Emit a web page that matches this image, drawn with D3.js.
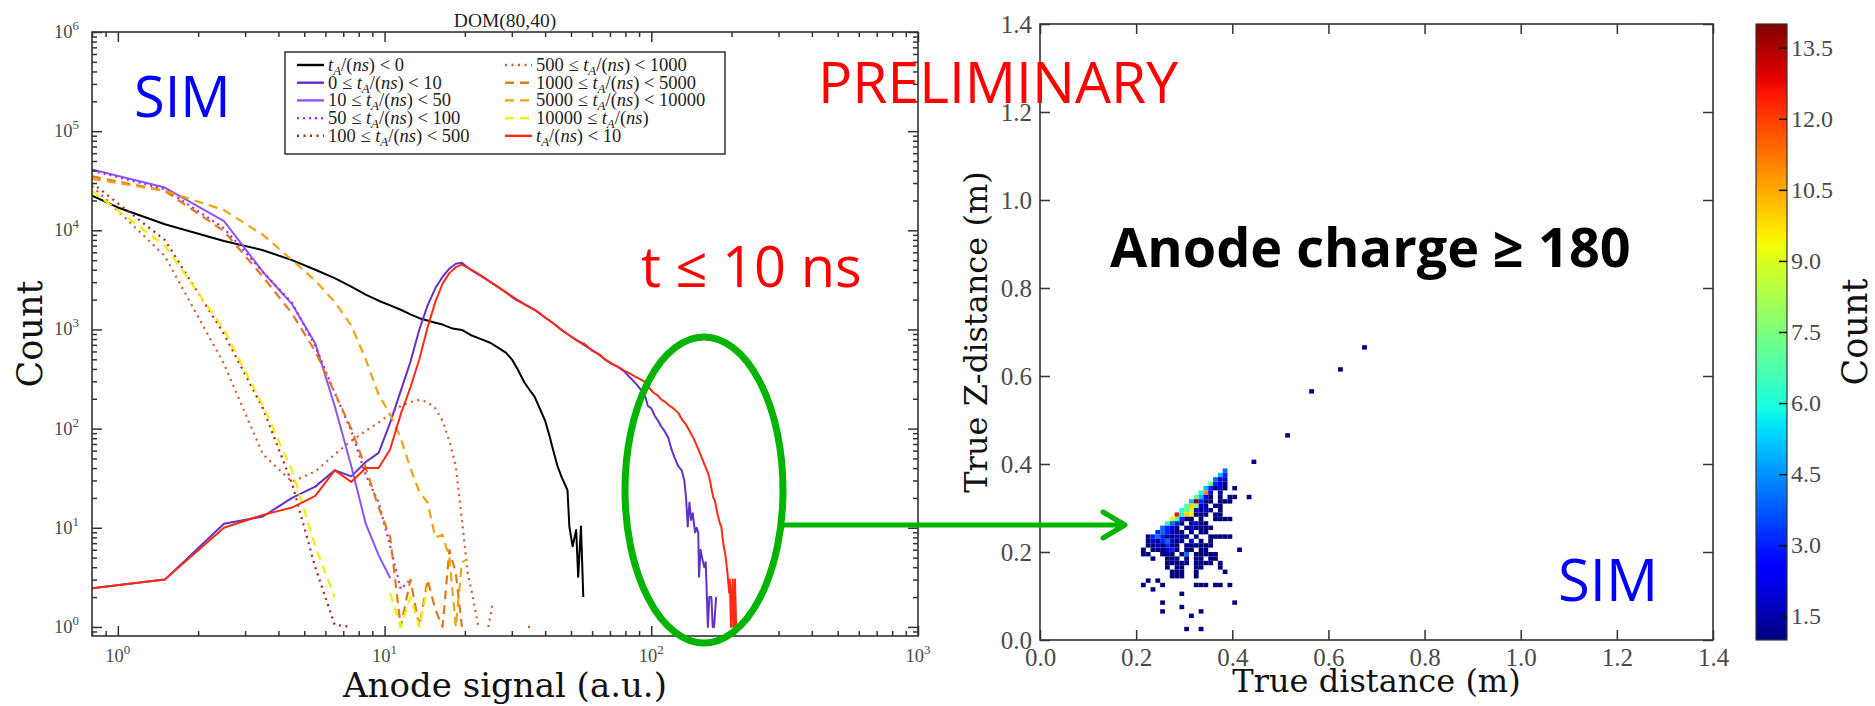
<!DOCTYPE html>
<html>
<head>
<meta charset="utf-8">
<script src="https://cdn.jsdelivr.net/npm/d3@7"></script>
<style>
body { margin: 0; background: #fff; }
text { font-family: "Liberation Serif", serif; }
</style>
</head>
<body>
<svg id="chart" width="1875" height="706"></svg>
<script>
// ---- left panel: anode signal histograms, [signal, count] pairs (null = empty bin)
const tNeg = [[0.8,22300],[1.0,17000],[1.5,11500],[2.5,7800],[3.5,6300],[4.5,5000],[5.5,4000],[6.5,3300],[7.5,2700],[8.5,2250],[9.5,1950],[10.5,1750],[11.5,1580],[12.5,1420],[13.5,1300],[14.5,1230],[15.5,1170],[16.5,1120],[18,1020],[19.5,990],[21,880],[23,800],[25,730],[27,640],[28.5,585],[30,500],[31.5,400],[33.5,290],[35,245],[36.5,210],[38,165],[40,120],[41.5,85],[42.5,66],[44.5,42],[46,33],[48.5,24],[49.3,10.3],[50.7,6.5],[52.3,9.5],[53.2,3.2],[54.5,10.3],[55.6,2]];
const t0to10 = [[0.8,2.45],[1.5,3.0],[2.5,11],[3.5,13],[4.5,20],[5.5,26],[6.5,38],[7.5,33],[8.5,46],[9.5,57],[10.5,115],[11.5,240],[12.5,470],[13.5,1000],[14.5,1750],[15.5,2600],[16.5,3400],[17.5,4100],[18.5,4600],[19.5,4700],[21,4000],[23,3450],[25,3000],[28,2450],[31,2000],[34,1760],[37,1540],[40,1320],[43,1150],[46,1000],[50,850],[55,720],[60,620],[64,550],[67,500],[71,450],[75,420],[79,380],[83,330],[86,300],[89,270],[92,240],[95,210],[97,170],[100,160],[103,135],[106,120],[109,105],[112,95],[116,80],[119,62],[122,52],[126,42],[130,38],[133,30],[135,20],[137,10.3],[139,18],[141,12],[143,14],[146,9],[148,10],[150,8.9],[151,3.2],[153,6],[155,5],[158,4],[160,4.5],[163,1],[165,2],[168,2],[170,1],[172,1],[175,2]];
const t10to50 = [[0.8,41000],[1.5,27000],[2.5,12400],[3.5,3800],[4.5,1800],[5.5,720],[6.5,170],[7.5,42],[8.5,11],[9.5,5.3],[10.5,3.1]];
const t50to100 = [[0.8,40000],[1.5,26000],[2.5,10500],[3.5,3800],[4.5,1850],[5.5,680],[6.5,230],[7.5,95],[8.5,34],[9.5,18],[10.5,6.5],[11.5,2.4],[12.5,3.0]];
const t100to500 = [[0.8,30000],[1.5,8000],[2.5,900],[3.5,160],[4.5,28],[5.5,4],[6.5,1.05],[7.5,1]];
const t500to1000 = [[0.8,28000],[1.5,5500],[2.5,450],[3.5,55],[4.5,29],[5.5,37],[6.5,55],[7.5,75],[8.5,95],[9.5,115],[10.5,140],[11.5,170],[12.5,185],[13.5,195],[14.5,185],[15.5,160],[16.5,120],[17.5,75],[18.5,42],[19.5,12],[20.5,3.5],[21.5,1.9],[22.5,1.0],[23.5,null],[24.5,1],[25.5,1.8],[26.5,null],[34.5,1],[35.5,1]];
const t1000to5000 = [[0.8,35000],[1.5,25000],[2.5,9800],[3.5,3400],[4.5,1450],[5.5,600],[6.5,230],[7.5,100],[8.5,40],[9.5,16],[10.5,8],[11.5,1],[12.5,3],[13.5,1],[14.5,3],[15.5,1.5],[16.5,1],[17.5,6],[18.5,3.5],[19.5,1]];
const t5000to10000 = [[0.8,33000],[1.5,25000],[2.5,16000],[3.5,9000],[4.5,5000],[5.5,3100],[6.5,1900],[7.5,1100],[8.5,500],[9.5,220],[10.5,140],[11.5,80],[12.5,40],[13.5,23],[14.5,18],[15.5,8],[16.5,8.5],[17.5,5],[18.5,1],[19.5,4.5],[20.5,4.8]];
const t10000up = [[0.8,25000],[1.5,7000],[2.5,1000],[3.5,170],[4.5,38],[5.5,6.5],[6.5,2.0],[7.5,null],[10.5,2.2],[11.5,1],[12.5,2],[13.5,1],[14.5,2.5]];
const tLt10 = [[0.8,2.45],[1.5,3.0],[2.5,10],[3.5,13.5],[4.5,16],[5.5,21],[6.5,38],[7.5,29],[8.5,40],[9.5,40],[10.5,62],[11.5,140],[12.5,260],[13.5,500],[14.5,1050],[15.5,1900],[16.5,2900],[17.5,3700],[18.5,4250],[19.5,4500],[21,4050],[23,3500],[25,3000],[28,2450],[31,2050],[34,1750],[37,1550],[40,1320],[43,1150],[46,990],[50,850],[53,760],[56,720],[60,610],[64,560],[67,500],[71,455],[75,420],[79,385],[83,360],[87,335],[90,320],[94,300],[98,260],[102,230],[106,215],[109,196],[113,185],[117,170],[121,160],[126,145],[130,125],[135,110],[140,92],[145,77],[150,62],[155,50],[159,42],[163,36],[166,30],[168,25],[171,20],[173,19],[176,15],[178,13],[181,11],[183,10.3],[185,8],[187,6.5],[189,5.6],[191,4.5],[193,3.5],[194,3],[196,2.2],[197,3],[199,1],[200,2],[202,3],[203,1],[205,1],[206,3],[208,1]];

const legendPre  = ["", "0 ≤ ", "10 ≤ ", "50 ≤ ", "100 ≤ ", "500 ≤ ", "1000 ≤ ", "5000 ≤ ", "10000 ≤ ", ""];
const legendPost = [" < 0", " < 10", " < 50", " < 100", " < 500", " < 1000", " < 5000", " < 10000", "", " < 10"];

// ---- right panel: 2D histogram, [x bin, z bin, count] with bins of 0.01 m
const BIN = 0.01;
const cells = [
[38,38,4],[37,37,5],[38,37,3],[36,36,4],[37,36,2],[38,36,2],
[35,35,7],[36,35,3],[37,35,2],[38,35,1],
[34,34,5],[35,34,3],[36,34,1],[37,34,2],[38,34,1],[40,34,1],
[33,33,6],[34,33,11],[35,33,2],[37,33,1],
[32,32,7],[33,32,5],[34,32,2],[35,32,1],[37,32,1],[39,32,1],[40,32,1],[43,32,1],
[31,31,5],[32,31,14],[33,31,3],[34,31,1],[35,31,1],[37,31,1],[38,31,1],[39,31,1],
[30,30,7],[31,30,10],[32,30,8],[33,30,2],[34,30,1],[36,30,1],[37,30,1],
[29,29,6],[30,29,7],[31,29,9],[32,29,2],[33,29,1],[34,29,2],[35,29,1],[37,29,1],
[28,28,12.5],[29,28,6],[30,28,10],[31,28,9.5],[32,28,1],[33,28,1],[34,28,1],[36,28,1],[37,28,1],
[27,27,9],[28,27,7],[29,27,3],[30,27,1],[31,27,1],[33,27,1],[36,27,1],[37,27,1],[38,27,1],[39,27,1],
[26,26,6],[27,26,4],[28,26,3],[29,26,1],[31,26,1],[32,26,2],[33,26,1],[34,26,1],
[25,25,4],[26,25,3],[27,25,2],[28,25,1],[30,25,1],[31,25,2],[32,25,1],[33,25,1],[34,25,1],[35,25,1],
[24,24,3],[25,24,4],[26,24,3],[27,24,2],[28,24,1],[29,24,1],[31,24,1],[33,24,1],[34,24,1],
[22,23,1],[23,23,3],[24,23,4],[25,23,3],[26,23,1],[27,23,1],[28,23,2],[29,23,1],[30,23,1],[32,23,1],[35,23,1],[36,23,1],[37,23,1],[38,23,1],[39,23,1],
[22,22,1],[23,22,2],[24,22,1],[25,22,3],[26,22,4],[27,22,2],[28,22,1],[29,22,1],[31,22,2],[33,22,1],[35,22,1],
[22,21,1],[23,21,1],[24,21,2],[25,21,1],[26,21,3],[27,21,1],[28,21,1],[30,21,1],[31,21,1],[32,21,1],[33,21,1],[34,21,1],[35,21,1],
[21,20,1],[23,20,1],[24,20,1],[25,20,1],[26,20,2],[27,20,3],[28,20,1],[30,20,1],[31,20,1],[33,20,1],[34,20,1],[41,20,1],
[21,19,1],[22,19,1],[25,19,1],[26,19,1],[27,19,1],[29,19,1],[30,19,4],[32,19,1],[33,19,1],[34,19,1],[35,19,1],[36,19,1],
[23,18,1],[26,18,1],[27,18,1],[28,18,1],[30,18,1],[32,18,1],[33,18,1],[35,18,1],[36,18,1],
[26,17,1],[27,17,1],[28,17,1],[29,17,1],[30,17,1],[32,17,1],[33,17,1],[34,17,1],[35,17,1],[37,17,1],
[26,16,1],[28,16,1],[29,16,1],[32,16,1],[33,16,1],[37,16,1],
[27,15,1],[28,15,1],[29,15,1],[32,15,1],[38,15,1],
[27,14,1],[28,14,1],[29,14,1],[32,14,1],
[22,13,1],[24,13,1],
[21,12,1],[25,12,1],[32,12,1],[33,12,1],[34,12,1],[36,12,1],[37,12,1],[39,12,1],
[23,11,1],[29,10,1],[25,8,1],[40,8,1],[29,7,1],[25,6,1],[33,6,1],[31,5,1],[30,2,1],[33,2,1],
[44,40,1],[51,46,1],[56,56,1],[62,61,1],[67,66,1]
];
const rightTicks = [0, 0.2, 0.4, 0.6, 0.8, 1.0, 1.2, 1.4];
const cbTicks = [1.5, 3.0, 4.5, 6.0, 7.5, 9.0, 10.5, 12.0, 13.5];

const svg = d3.select("#chart");
const ink = "#333";
const tickInk = "#4a4a4a";

// ================= left panel =================
const L = {x0: 92, x1: 918, y0: 32, y1: 636};
const x = d3.scaleLog().domain([0.8, 1000]).range([L.x0, L.x1]);
const y = d3.scaleLog().domain([0.81, 1e6]).range([L.y1, L.y0]);

svg.append("clipPath").attr("id", "clipL")
   .append("rect").attr("x", L.x0).attr("y", L.y0)
   .attr("width", L.x1 - L.x0).attr("height", L.y1 - L.y0);

const series = [
  {data: tNeg,         color: "#000000", dash: null},
  {data: t0to10,       color: "#6131c9", dash: null},
  {data: t10to50,      color: "#8b55f7", dash: null},
  {data: t50to100,     color: "#a22be0", dash: "2,4"},
  {data: t100to500,    color: "#b3200f", dash: "2,4.5"},
  {data: t500to1000,   color: "#d45a2a", dash: "2,4.5"},
  {data: t1000to5000,  color: "#e07a1c", dash: "9,6"},
  {data: t5000to10000, color: "#f0a312", dash: "9,6"},
  {data: t10000up,     color: "#f2f000", dash: "9,6"},
  {data: tLt10,        color: "#ff2a12", dash: null}
];

const line = d3.line()
  .defined(d => d[1] != null)
  .x(d => x(d[0]))
  .y(d => y(d[1]));

const plotL = svg.append("g").attr("clip-path", "url(#clipL)");
series.forEach(s => {
  plotL.append("path")
    .datum(s.data)
    .attr("d", line)
    .attr("fill", "none")
    .attr("stroke", s.color)
    .attr("stroke-width", s.dash ? 2.2 : 2)
    .attr("stroke-dasharray", s.dash)
    .attr("stroke-linejoin", "round");
});

// log ticks, inward on all four sides
const xMajor = [1, 10, 100, 1000];
const xMinor = [];
[-1, 0, 1, 2].forEach(k => d3.range(2, 10).forEach(m => {
  const v = m * Math.pow(10, k);
  if (v >= 0.8 && v < 1000) xMinor.push(v);
}));
const yMajor = [1, 10, 100, 1e3, 1e4, 1e5, 1e6];
const yMinor = [];
[-1, 0, 1, 2, 3, 4, 5].forEach(k => d3.range(2, 10).forEach(m => {
  const v = m * Math.pow(10, k);
  if (v >= 0.81 && v < 1e6) yMinor.push(v);
}));

function tickSet(axis, pos, values, size) {
  svg.append("g")
    .attr("transform", pos)
    .call(axis.tickValues(values).tickSizeInner(-size).tickSizeOuter(0).tickFormat(""))
    .call(g => g.select(".domain").remove())
    .call(g => g.selectAll("line").attr("stroke", ink).attr("stroke-width", 1.5));
}
tickSet(d3.axisBottom(x), `translate(0,${L.y1})`, xMajor, 10);
tickSet(d3.axisBottom(x), `translate(0,${L.y1})`, xMinor, 5);
tickSet(d3.axisTop(x), `translate(0,${L.y0})`, xMajor, 10);
tickSet(d3.axisTop(x), `translate(0,${L.y0})`, xMinor, 5);
tickSet(d3.axisLeft(y), `translate(${L.x0},0)`, yMajor, 10);
tickSet(d3.axisLeft(y), `translate(${L.x0},0)`, yMinor, 5);
tickSet(d3.axisRight(y), `translate(${L.x1},0)`, yMajor, 10);
tickSet(d3.axisRight(y), `translate(${L.x1},0)`, yMinor, 5);

svg.append("rect")
  .attr("x", L.x0).attr("y", L.y0)
  .attr("width", L.x1 - L.x0).attr("height", L.y1 - L.y0)
  .attr("fill", "none").attr("stroke", ink).attr("stroke-width", 1.6);

function powLabel(px, py, exp, anchor) {
  const t = svg.append("text")
    .attr("x", px).attr("y", py)
    .attr("text-anchor", anchor)
    .attr("fill", tickInk)
    .style("font-size", "18.5px");
  t.append("tspan").text("10");
  t.append("tspan").attr("dy", -8).style("font-size", "13px").text(exp);
}
xMajor.forEach(v => powLabel(x(v), L.y1 + 26, Math.round(Math.log10(v)), "middle"));
yMajor.forEach(v => powLabel(L.x0 - 13, y(v) + 6, Math.round(Math.log10(v)), "end"));

svg.append("text")
  .attr("x", (L.x0 + L.x1) / 2).attr("y", 27)
  .attr("text-anchor", "middle").attr("fill", "#222")
  .style("font-size", "19.5px")
  .text("DOM(80,40)");

svg.append("text")
  .attr("x", (L.x0 + L.x1) / 2).attr("y", 697)
  .attr("text-anchor", "middle").attr("fill", "#111")
  .style("font-family", "DejaVu Serif").style("font-size", "34px")
  .text("Anode signal (a.u.)");

svg.append("text")
  .attr("transform", `translate(30,${(L.y0 + L.y1) / 2}) rotate(-90)`)
  .attr("text-anchor", "middle").attr("dominant-baseline", "central").attr("fill", "#111")
  .style("font-family", "DejaVu Serif").style("font-size", "35px")
  .text("Count");

// legend
const leg = svg.append("g");
leg.append("rect")
  .attr("x", 285).attr("y", 52).attr("width", 440).attr("height", 102)
  .attr("fill", "#fff").attr("stroke", "#222").attr("stroke-width", 1.4);
series.forEach((s, i) => {
  const col = i < 5 ? 0 : 1;
  const row = i % 5;
  const lx = col === 0 ? 297 : 505;
  const ly = 65 + row * 17.7;
  leg.append("line")
    .attr("x1", lx).attr("x2", lx + 27).attr("y1", ly).attr("y2", ly)
    .attr("stroke", s.color).attr("stroke-width", 2.4)
    .attr("stroke-dasharray", s.dash);
  const t = leg.append("text")
    .attr("x", lx + 31).attr("y", ly + 6)
    .attr("fill", "#222").style("font-size", "18.5px");
  t.append("tspan").text(legendPre[i]);
  t.append("tspan").style("font-style", "italic").text("t");
  t.append("tspan").style("font-style", "italic").style("font-size", "13px").attr("dy", 4).text("A");
  t.append("tspan").attr("dy", -4).text("/(");
  t.append("tspan").style("font-style", "italic").text("ns");
  t.append("tspan").text(")" + legendPost[i]);
});

// ================= right panel =================
const R = {x0: 1040, x1: 1713, y0: 24, y1: 640};
const xr = d3.scaleLinear().domain([0, 1.4]).range([R.x0, R.x1]);
const yr = d3.scaleLinear().domain([0, 1.4]).range([R.y1, R.y0]);

// matplotlib "jet"
const jetR = d3.scaleLinear().domain([0, 0.35, 0.66, 0.89, 1]).range([0, 0, 1, 1, 0.5]).clamp(true);
const jetG = d3.scaleLinear().domain([0, 0.125, 0.375, 0.64, 0.91, 1]).range([0, 0, 1, 1, 0, 0]).clamp(true);
const jetB = d3.scaleLinear().domain([0, 0.11, 0.34, 0.65, 1]).range([0.5, 1, 1, 0, 0]).clamp(true);
const cnorm = d3.scaleLinear().domain([1, 14]).range([0, 1]).clamp(true);
const jet = v => {
  const t = cnorm(v);
  return d3.rgb(255 * jetR(t), 255 * jetG(t), 255 * jetB(t)).formatHex();
};

svg.append("g").selectAll("rect")
  .data(cells)
  .join("rect")
  .attr("x", d => xr(d[0] * BIN))
  .attr("y", d => yr((d[1] + 1) * BIN))
  .attr("width", xr(BIN) - xr(0))
  .attr("height", yr(0) - yr(BIN))
  .attr("fill", d => jet(d[2]));

function linTicks(axis, pos, labels) {
  svg.append("g")
    .attr("transform", pos)
    .call(axis.tickValues(rightTicks).tickSizeInner(-10).tickSizeOuter(0)
      .tickPadding(labels ? 8 : 0).tickFormat(labels ? d3.format(".1f") : ""))
    .call(g => g.select(".domain").remove())
    .call(g => g.selectAll("line").attr("stroke", ink).attr("stroke-width", 1.5))
    .call(g => g.selectAll("text").attr("fill", tickInk)
      .style("font-family", "Liberation Serif").style("font-size", "25px"));
}
linTicks(d3.axisBottom(xr), `translate(0,${R.y1})`, true);
linTicks(d3.axisTop(xr), `translate(0,${R.y0})`, false);
linTicks(d3.axisLeft(yr), `translate(${R.x0},0)`, true);
linTicks(d3.axisRight(yr), `translate(${R.x1},0)`, false);

svg.append("rect")
  .attr("x", R.x0).attr("y", R.y0)
  .attr("width", R.x1 - R.x0).attr("height", R.y1 - R.y0)
  .attr("fill", "none").attr("stroke", ink).attr("stroke-width", 1.6);

svg.append("text")
  .attr("x", (R.x0 + R.x1) / 2).attr("y", 692)
  .attr("text-anchor", "middle").attr("fill", "#111")
  .style("font-family", "DejaVu Serif").style("font-size", "32px")
  .text("True distance (m)");

svg.append("text")
  .attr("transform", `translate(976,${(R.y0 + R.y1) / 2}) rotate(-90)`)
  .attr("text-anchor", "middle").attr("dominant-baseline", "central").attr("fill", "#111")
  .style("font-family", "DejaVu Serif").style("font-size", "32px")
  .text("True Z-distance (m)");

// colorbar
const CB = {x0: 1756, x1: 1787};
const cb = d3.scaleLinear().domain([1, 14]).range([R.y1, R.y0]);
const grad = svg.append("defs").append("linearGradient")
  .attr("id", "jetGrad").attr("x1", 0).attr("y1", 1).attr("x2", 0).attr("y2", 0);
d3.range(0, 1.0001, 0.02).forEach(t => {
  grad.append("stop").attr("offset", t).attr("stop-color", jet(cnorm.invert(t)));
});
svg.append("rect")
  .attr("x", CB.x0).attr("y", R.y0)
  .attr("width", CB.x1 - CB.x0).attr("height", R.y1 - R.y0)
  .attr("fill", "url(#jetGrad)").attr("stroke", ink).attr("stroke-width", 1.2);
svg.append("g")
  .attr("transform", `translate(${CB.x1},0)`)
  .call(d3.axisRight(cb).tickValues(cbTicks).tickSizeInner(-8).tickSizeOuter(0)
    .tickPadding(4).tickFormat(d3.format(".1f")))
  .call(g => g.select(".domain").remove())
  .call(g => g.selectAll("line").attr("stroke", "#111").attr("stroke-width", 1.5))
  .call(g => g.selectAll("text").attr("fill", tickInk)
    .style("font-family", "Liberation Serif").style("font-size", "24px"));

svg.append("text")
  .attr("transform", `translate(1855,${(R.y0 + R.y1) / 2}) rotate(-90)`)
  .attr("text-anchor", "middle").attr("dominant-baseline", "central").attr("fill", "#111")
  .style("font-family", "DejaVu Serif").style("font-size", "35px")
  .text("Count");

// ================= annotations =================
const green = "#00b400";
svg.append("ellipse")
  .attr("cx", 704).attr("cy", 490).attr("rx", 79).attr("ry", 153)
  .attr("fill", "none").attr("stroke", green).attr("stroke-width", 7);
svg.append("path")
  .attr("d", "M783,525 L1124,525 M1103,512 L1125,525 L1103,538")
  .attr("fill", "none").attr("stroke", green).attr("stroke-width", 5)
  .attr("stroke-linecap", "round").attr("stroke-linejoin", "round");

function note(txt, px, py, size, color, weight) {
  svg.append("text")
    .attr("x", px).attr("y", py)
    .attr("fill", color)
    .style("font-family", "Open Sans").style("font-size", size + "px")
    .style("font-weight", weight || "normal")
    .text(txt);
}
note("SIM", 134, 117, 56, "#0000ff");
note("PRELIMINARY", 818, 103, 57, "#ff0000");
note("t ≤ 10 ns", 641, 287, 56, "#ff0000");
note("Anode charge ≥ 180", 1110, 267, 54, "#000", "bold");
note("SIM", 1558, 601, 58, "#0000ff");
</script>
</body>
</html>
